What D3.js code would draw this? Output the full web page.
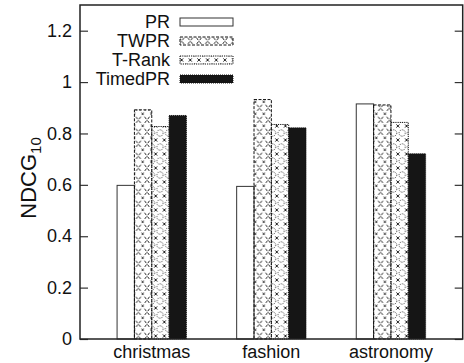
<!DOCTYPE html>
<html>
<head>
<meta charset="utf-8">
<script src="https://cdn.jsdelivr.net/npm/d3@7"></script>
<style>
  body { margin: 0; background: #fff; }
  text { font-family: "Liberation Sans", Arial, sans-serif; fill: #111; }
</style>
</head>
<body>
<div id="chart"></div>
<script>
// data
var categories = ["christmas", "fashion", "astronomy"];
var seriesNames = ["PR", "TWPR", "T-Rank", "TimedPR"];
var prValues = [0.598, 0.594, 0.915];
var twprValues = [0.892, 0.932, 0.911];
var trankValues = [0.827, 0.835, 0.843];
var timedValues = [0.870, 0.822, 0.721];
var yTicks = [0, 0.2, 0.4, 0.6, 0.8, 1, 1.2];

var seriesValues = [prValues, twprValues, trankValues, timedValues];

var W = 464, H = 363;
var plotL = 80, plotR = 462.7, plotT = 5, plotB = 339;

var svg = d3.select("#chart").append("svg")
  .attr("width", W).attr("height", H);

// patterns for the hatched bars
var defs = svg.append("defs");
var pTw = defs.append("pattern").attr("id", "twpr")
  .attr("patternUnits", "userSpaceOnUse").attr("width", 8.65).attr("height", 12);
pTw.append("path").attr("d", "M0.5,0.5 L8.15,11.5 M8.15,0.5 L0.5,11.5")
  .attr("stroke", "#111").attr("stroke-width", 0.9).attr("stroke-dasharray", "3,2").attr("fill", "none");

var pTr = defs.append("pattern").attr("id", "trank")
  .attr("patternUnits", "userSpaceOnUse").attr("width", 8.65).attr("height", 14);
pTr.append("circle").attr("cx", 4.3).attr("cy", 7).attr("r", 3.2)
  .attr("fill", "none").attr("stroke", "#111").attr("stroke-width", 0.8).attr("stroke-dasharray", "1.2,1.2");
pTr.append("path").attr("d", "M0,0 L1.6,1.6 M8.65,0 L7.05,1.6 M0,14 L1.6,12.4 M8.65,14 L7.05,12.4")
  .attr("stroke", "#111").attr("stroke-width", 0.9).attr("fill", "none");

var fills = ["#fff", "url(#twpr)", "url(#trank)", "#151515"];
var strokes = ["#333", "#111", "#111", "#111"];
var dashes = [null, "3,1.5", "1.2,1", "1,1"];

var x = d3.scaleLinear().domain([-0.6, 2.6]).range([plotL, plotR]);
var y = d3.scaleLinear().domain([0, 1.3]).range([plotB, plotT]);
var bw = 0.145; // bar width in x units

// bars
var rows = [];
categories.forEach(function(c, i) {
  seriesValues.forEach(function(vals, s) {
    rows.push({cat: i, s: s, v: vals[i]});
  });
});

svg.append("g").selectAll("rect")
  .data(rows)
  .enter().append("rect")
  .attr("x", function(d) { return x(d.cat + (d.s - 2) * bw); })
  .attr("y", function(d) { return y(d.v); })
  .attr("width", function(d) { return x(bw) - x(0); })
  .attr("height", function(d) { return y(0) - y(d.v); })
  .attr("fill", function(d) { return fills[d.s]; })
  .attr("stroke", function(d) { return strokes[d.s]; })
  .attr("stroke-width", 1)
  .attr("stroke-dasharray", function(d) { return dashes[d.s]; });

// axes, ticks pointing inward
var yAxis = svg.append("g")
  .attr("transform", "translate(" + plotL + ",0)")
  .call(d3.axisLeft(y).tickValues(yTicks).tickSize(-8).tickPadding(8).tickFormat(d3.format("~g")));
yAxis.select(".domain").remove();
yAxis.selectAll("text").attr("font-size", "18px").attr("fill", "#111")
  .attr("font-family", "Liberation Sans, Arial, sans-serif");
yAxis.selectAll("line").attr("stroke", "#333").attr("stroke-width", 1.2);

var yAxisR = svg.append("g")
  .attr("transform", "translate(" + plotR + ",0)")
  .call(d3.axisRight(y).tickValues(yTicks).tickSize(-8).tickFormat(""));
yAxisR.select(".domain").remove();
yAxisR.selectAll("line").attr("stroke", "#333").attr("stroke-width", 1.2);

// category labels
svg.append("g").selectAll("text")
  .data(categories)
  .enter().append("text")
  .attr("x", function(d, i) { return x(i); })
  .attr("y", 358)
  .attr("text-anchor", "middle")
  .attr("font-size", "18px")
  .text(function(d) { return d; });

// frame
svg.append("rect")
  .attr("x", plotL).attr("y", plotT)
  .attr("width", plotR - plotL).attr("height", plotB - plotT)
  .attr("fill", "none").attr("stroke", "#222").attr("stroke-width", 1.5);

// y label with subscript
var yl = svg.append("text")
  .attr("transform", "translate(36," + ((plotT + plotB) / 2 + 6) + ") rotate(-90)")
  .attr("text-anchor", "middle")
  .attr("font-size", "22px");
yl.append("tspan").text("NDCG");
yl.append("tspan").attr("font-size", "15px").attr("dy", 5).text("10");

// legend
var leg = svg.append("g").selectAll("g")
  .data(seriesNames)
  .enter().append("g")
  .attr("transform", function(d, i) { return "translate(0," + (22 + i * 19) + ")"; });
leg.append("text")
  .attr("x", 170).attr("y", 6)
  .attr("text-anchor", "end")
  .attr("font-size", "18px")
  .text(function(d) { return d; });
leg.append("rect")
  .attr("x", 180).attr("y", -4)
  .attr("width", 53).attr("height", 8)
  .attr("fill", function(d, i) { return fills[i]; })
  .attr("stroke", function(d, i) { return strokes[i]; })
  .attr("stroke-width", 1)
  .attr("stroke-dasharray", function(d, i) { return dashes[i]; });
</script>
</body>
</html>
